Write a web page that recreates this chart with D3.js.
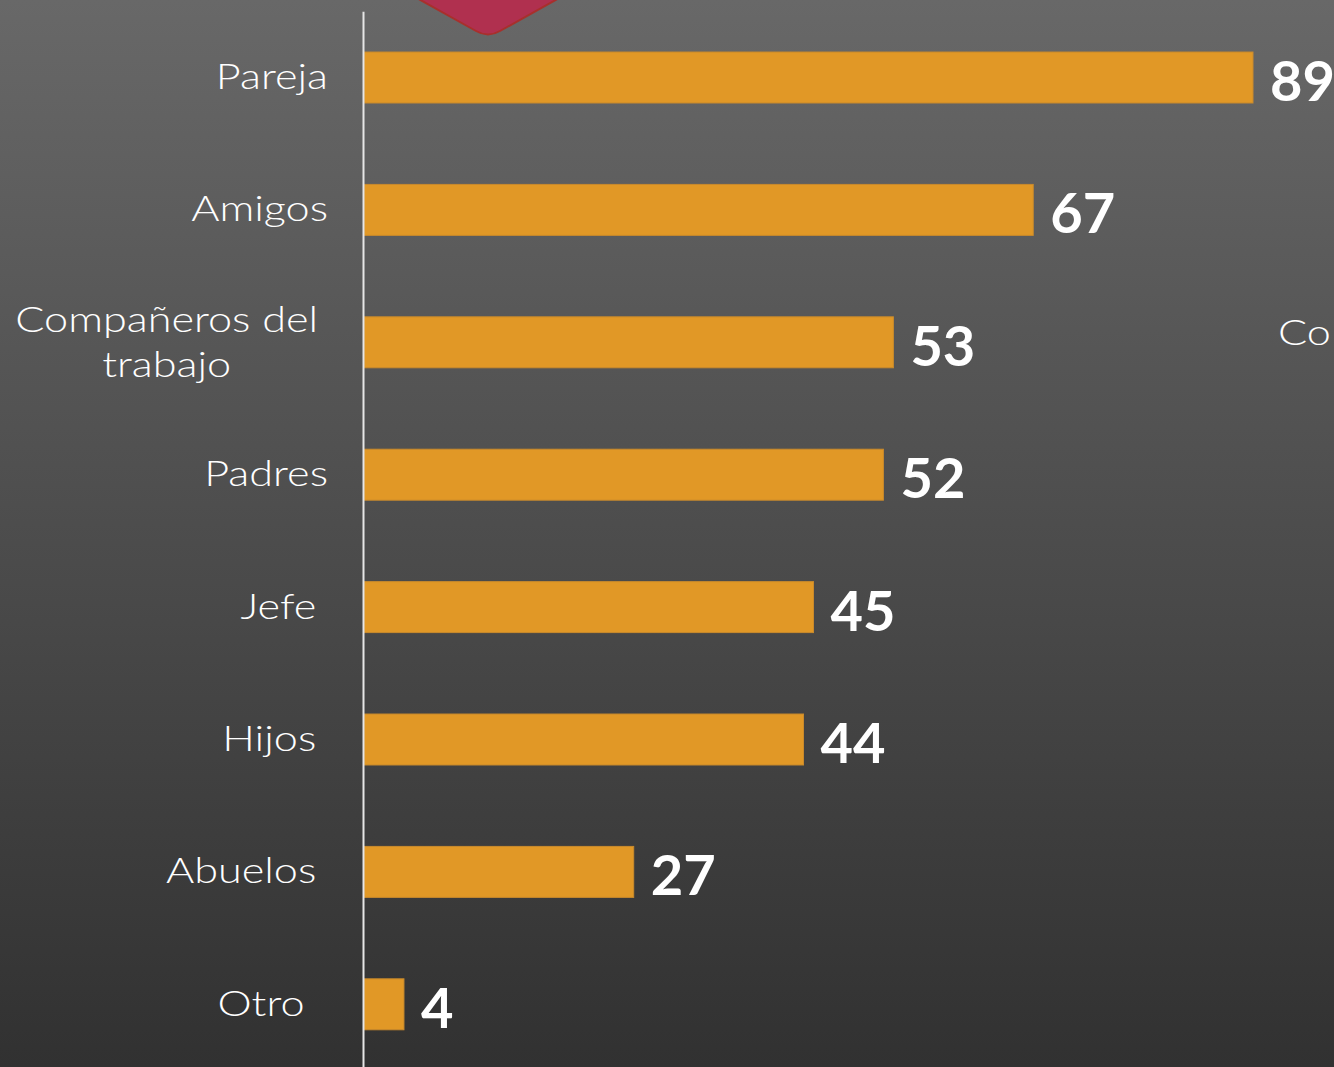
<!DOCTYPE html>
<html>
<head>
<meta charset="utf-8">
<script src="https://cdn.jsdelivr.net/npm/d3@7"></script>
<style>
  html, body { margin: 0; padding: 0; background: #4c4c4c; }
  svg { display: block; }
  .cat text { white-space: pre; }
</style>
</head>
<body>
<svg id="chart"></svg>
<script>
const WIDTH = 1334;
const HEIGHT = 1067;

// categories (trailing spaces kept as in the source labels)
const categories = ['Pareja', 'Amigos', 'Compañeros del\ntrabajo', 'Padres', 'Jefe ', 'Hijos ', 'Abuelos ', 'Otro  '];
const values = [89, 67, 53, 52, 45, 44, 27, 4];

const LABEL_FONT = 'Lato, "Open Sans", sans-serif';
const STRETCH = 1.2; // widen the light face towards a geometric look
const PAD = 35;

const svg = d3.select('#chart')
  .attr('width', WIDTH)
  .attr('height', HEIGHT);

// background gradient
const grad = svg.append('defs').append('linearGradient')
  .attr('id', 'bg')
  .attr('x1', 0).attr('y1', 0).attr('x2', 0).attr('y2', 1);
grad.append('stop').attr('offset', '0%').attr('stop-color', '#686868');
grad.append('stop').attr('offset', '100%').attr('stop-color', '#313131');

svg.append('rect')
  .attr('width', WIDTH)
  .attr('height', HEIGHT)
  .attr('fill', 'url(#bg)');

// red shape peeking in from the top
svg.append('path')
  .attr('d', 'M354,-37 L476,31 Q488,38 500,31 L622,-37 Z')
  .attr('fill', '#b0304f')
  .attr('stroke', '#a8302c')
  .attr('stroke-width', 2);

const xScale = d3.scaleLinear()
  .domain([0, d3.max(values)])
  .range([364, 1253]);

const yScale = d3.scaleBand()
  .domain(categories)
  .range([11.3, 1070.5])
  .paddingInner(0.615)
  .paddingOuter(0.3075);

const data = categories.map((c, i) => ({ cat: c, value: values[i] }));

// bars
svg.append('g')
  .selectAll('rect')
  .data(data)
  .enter()
  .append('rect')
  .attr('x', xScale(0))
  .attr('y', d => yScale(d.cat))
  .attr('width', d => xScale(d.value) - xScale(0))
  .attr('height', yScale.bandwidth())
  .attr('fill', '#e19826')
  .attr('stroke', '#c98a2c')
  .attr('stroke-width', 1);

// value labels
svg.append('g')
  .selectAll('text')
  .data(data)
  .enter()
  .append('text')
  .attr('x', d => xScale(d.value) + 17)
  .attr('y', d => yScale(d.cat) + yScale.bandwidth() / 2 + 2)
  .attr('dominant-baseline', 'central')
  .attr('fill', '#ffffff')
  .attr('font-family', LABEL_FONT)
  .attr('font-weight', 700)
  .attr('font-size', 56)
  .text(d => d.value);

// category axis
const leftAxis = d3.axisLeft(yScale)
  .tickSize(0)
  .tickPadding(PAD);

const axisG = svg.append('g')
  .attr('class', 'cat')
  .attr('transform', 'translate(363,0)')
  .call(leftAxis);

axisG.select('.domain')
  .attr('stroke', '#e6e6e6')
  .attr('stroke-width', 2);

axisG.selectAll('text')
  .attr('fill', '#ffffff')
  .attr('font-family', LABEL_FONT)
  .attr('font-weight', 300)
  .attr('font-size', 36)
  .attr('transform', `scale(${STRETCH},1)`)
  .attr('x', -PAD / STRETCH)
  .each(function (d) {
    const lines = d.split('\n');
    if (lines.length < 2) return;
    const t = d3.select(this).text('').attr('text-anchor', 'middle').attr('dy', null);
    const spans = lines.map((line, i) => t.append('tspan')
      .attr('dy', i === 0 ? '-0.3em' : '1.27em')
      .text(line));
    const widest = d3.max(spans, s => s.node().getComputedTextLength());
    spans.forEach(s => s.attr('x', -(45 / STRETCH + widest / 2)));
  });

// text cut off at the right edge
svg.append('text')
  .attr('transform', `translate(1278,${yScale(categories[2]) + yScale.bandwidth() / 2 - 11}) scale(${STRETCH},1)`)
  .attr('dominant-baseline', 'central')
  .attr('fill', '#ffffff')
  .attr('font-family', LABEL_FONT)
  .attr('font-weight', 300)
  .attr('font-size', 36)
  .text('Co');
</script>
</body>
</html>
